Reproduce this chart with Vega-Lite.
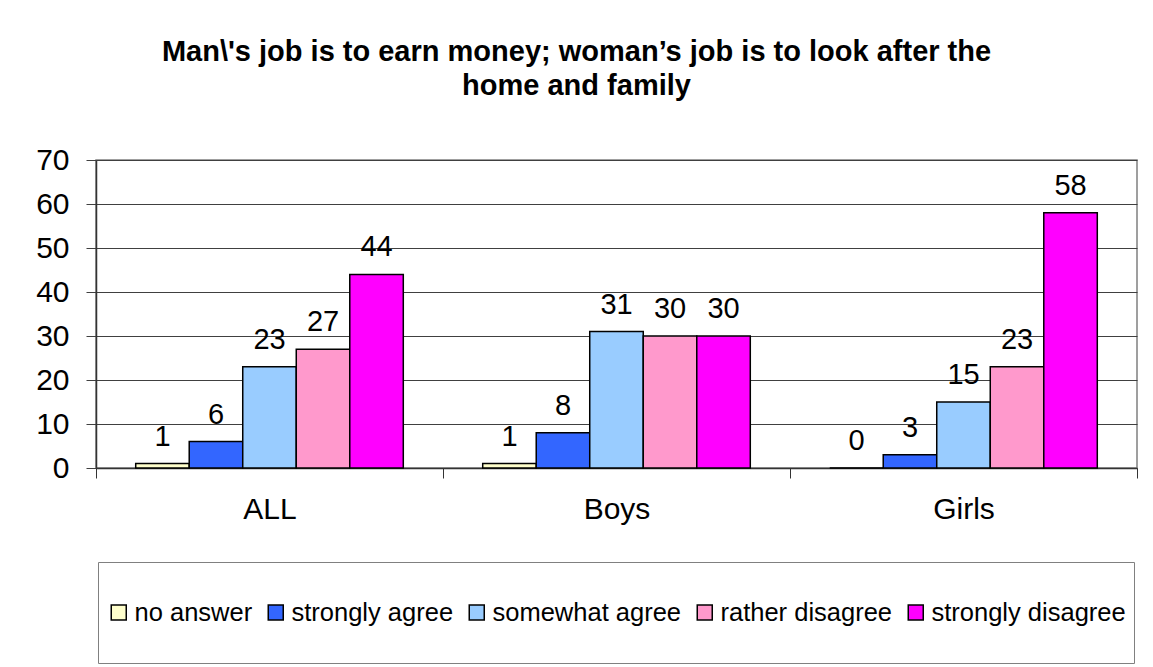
{
  "$schema": "https://vega.github.io/schema/vega-lite/v6.json",
  "width": 1041,
  "height": 308,
  "autosize": {"type": "none"},
  "padding": {"left": 96, "top": 160, "right": 16, "bottom": 199},
  "background": "white",
  "title": {
    "text": ["Man\\'s job is to earn money; woman’s job is to look after the", "home and family"],
    "font": "Liberation Sans",
    "fontSize": 29,
    "fontWeight": "bold",
    "lineHeight": 34,
    "anchor": "middle",
    "dx": -40,
    "offset": 44,
    "color": "black"
  },
  "data": {
    "values": [
      {"group": "ALL", "answer": "no answer", "value": 1},
      {"group": "ALL", "answer": "strongly agree", "value": 6},
      {"group": "ALL", "answer": "somewhat agree", "value": 23},
      {"group": "ALL", "answer": "rather disagree", "value": 27},
      {"group": "ALL", "answer": "strongly disagree", "value": 44},
      {"group": "Boys", "answer": "no answer", "value": 1},
      {"group": "Boys", "answer": "strongly agree", "value": 8},
      {"group": "Boys", "answer": "somewhat agree", "value": 31},
      {"group": "Boys", "answer": "rather disagree", "value": 30},
      {"group": "Boys", "answer": "strongly disagree", "value": 30},
      {"group": "Girls", "answer": "no answer", "value": 0},
      {"group": "Girls", "answer": "strongly agree", "value": 3},
      {"group": "Girls", "answer": "somewhat agree", "value": 15},
      {"group": "Girls", "answer": "rather disagree", "value": 23},
      {"group": "Girls", "answer": "strongly disagree", "value": 58}
    ]
  },
  "encoding": {
    "x": {
      "field": "group",
      "type": "nominal",
      "sort": ["ALL", "Boys", "Girls"],
      "scale": {"paddingInner": 0, "paddingOuter": 0},
      "axis": {
        "title": null,
        "labelAngle": 0,
        "tickBand": "extent",
        "ticks": true,
        "tickSize": 10,
        "tickColor": "#333333",
        "domainColor": "#333333",
        "domainWidth": 1.5,
        "labelFont": "Liberation Sans",
        "labelFontSize": 30,
        "labelColor": "black",
        "labelPadding": 16,
        "grid": false
      }
    },
    "xOffset": {
      "field": "answer",
      "type": "nominal",
      "sort": ["no answer", "strongly agree", "somewhat agree", "rather disagree", "strongly disagree"],
      "scale": {"paddingInner": 0, "paddingOuter": 0.742}
    },
    "y": {
      "field": "value",
      "type": "quantitative",
      "scale": {"domain": [0, 70], "nice": false},
      "axis": {
        "title": null,
        "values": [0, 10, 20, 30, 40, 50, 60, 70],
        "grid": true,
        "gridColor": "#404040",
        "gridWidth": 1,
        "domainColor": "#333333",
        "domainWidth": 1.5,
        "tickColor": "#404040",
        "tickSize": 10,
        "labelFont": "Liberation Sans",
        "labelFontSize": 30,
        "labelColor": "black",
        "labelPadding": 17
      }
    }
  },
  "layer": [
    {
      "mark": {"type": "bar", "stroke": "black", "strokeWidth": 1.5},
      "encoding": {
        "color": {
          "field": "answer",
          "type": "nominal",
          "sort": ["no answer", "strongly agree", "somewhat agree", "rather disagree", "strongly disagree"],
          "scale": {
            "domain": ["no answer", "strongly agree", "somewhat agree", "rather disagree", "strongly disagree"],
            "range": ["#FFFFCC", "#3366FF", "#99CCFF", "#FF99CC", "#FF00FF"]
          },
          "legend": {
            "title": null,
            "orient": "none",
            "legendX": 2,
            "legendY": 402,
            "direction": "horizontal",
            "symbolType": "square",
            "symbolSize": 225,
            "symbolStrokeColor": "black",
            "symbolStrokeWidth": 1.5,
            "symbolOpacity": 1,
            "labelFont": "Liberation Sans",
            "labelFontSize": 25.5,
            "labelColor": "black",
            "labelOffset": 3,
            "labelLimit": 400,
            "columnPadding": 10,
            "padding": 8,
            "clipHeight": 85,
            "strokeColor": "#808080"
          }
        }
      }
    },
    {
      "mark": {"type": "text", "dy": -18, "baseline": "alphabetic", "fontSize": 29, "font": "Liberation Sans", "color": "black"},
      "encoding": {"text": {"field": "value", "type": "quantitative"}}
    }
  ],
  "config": {"view": {"stroke": "#808080", "strokeWidth": 1.5}}
}
